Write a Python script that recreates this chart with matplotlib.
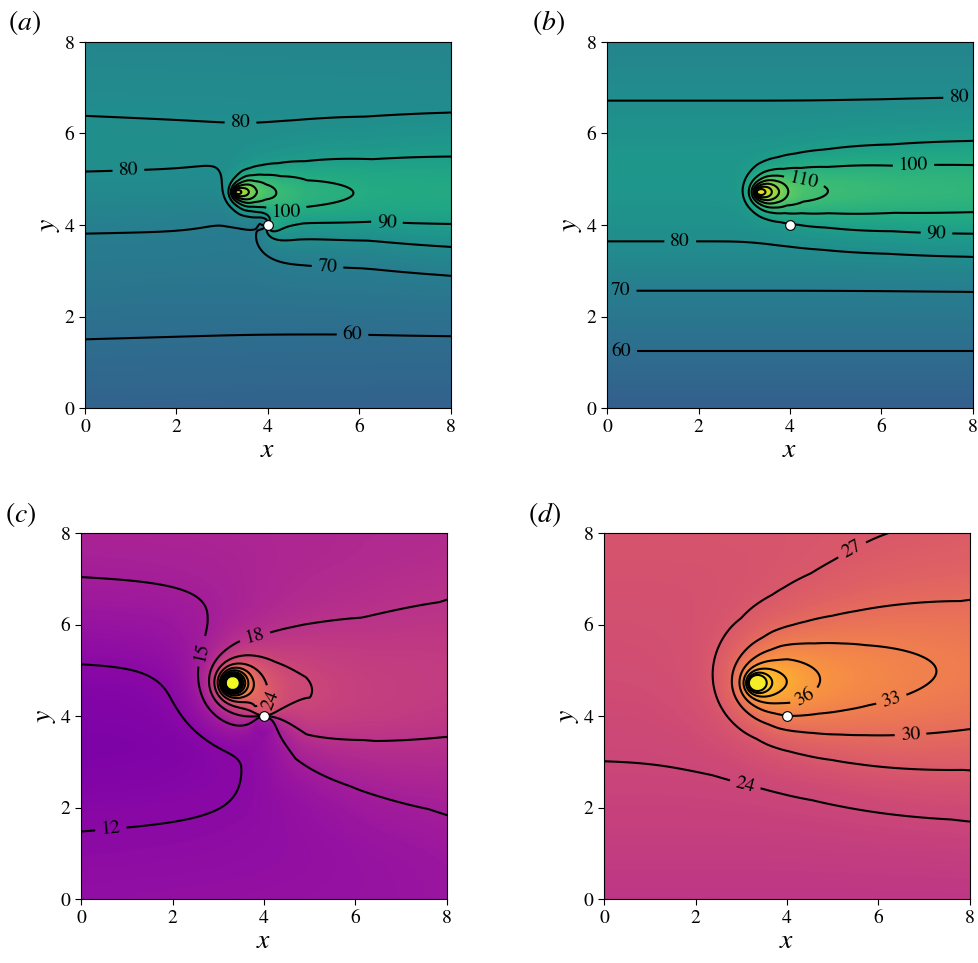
import numpy as np
import matplotlib.pyplot as plt
from matplotlib.colors import Normalize

plt.rcParams['font.family'] = 'STIXGeneral'
plt.rcParams['mathtext.fontset'] = 'stix'

# source (yellow) and sensor (white) positions
source_xy = [3.30, 4.72]
sensor_xy = [4.0, 4.0]

# background level along the left edge, per panel
back_y_a = [0, 1.5, 3.85, 5.15, 5.8, 6.4, 8]
back_v_a = [53.5, 60, 70, 80.3, 81.5, 80, 75]
back_y_b = [0, 1.25, 2.58, 3.6, 4.6, 5.4, 6.72, 8]
back_v_b = [51, 60, 70, 80, 85, 86, 80, 74]
back_y_c = [0, 1.5, 3.3, 4.6, 5.15, 7.0, 8]
back_v_c = [12.8, 12, 10.4, 11.2, 12, 15, 15.8]
back_y_d = [0, 1.5, 3.0, 5.0, 8]
back_v_d = [21.3, 22.8, 24, 25, 26.3]
slope_x = [-0.12, 0.0, 0.05, 0.0]

# plume rise along the axis (A) and its lateral decay (eta0), at distances s
s_ab = [0, 0.15, 0.33, 0.44, 0.66, 1.0, 1.56, 3.0, 4.7, 6.5]
rise_a = [75, 62, 52, 45, 37, 30, 24.5, 21.3, 20.8, 20.5]
rise_b = [80, 66, 53, 46, 35, 28.5, 24.7, 21.5, 20, 19.5]
s_eta_ab = [0, 0.3, 0.6, 1.0, 1.7, 3.0, 4.7, 6.5]
eta_a = [0.2, 0.23, 0.22, 0.2, 0.18, 0.15, 0.136, 0.13]
eta_b = [0.24, 0.24, 0.22, 0.2, 0.17, 0.135, 0.11, 0.1]
s_c = [0, 0.5, 1.0, 1.8, 3.0, 4.7, 6.5]
rise_c = [6.5, 6.2, 5.8, 5.8, 5.5, 5.5, 5.3]
eta_c = [1.0, 0.95, 0.85, 0.75, 0.62, 0.5, 0.48]
s_d = [0, 0.4, 0.8, 1.45, 2.5, 4.7, 6.5]
rise_d = [9.5, 10, 10.2, 9.1, 8.2, 6.9, 6.5]
s_eta_d = [0, 0.3, 0.6, 0.8, 1.2, 2.0, 4.7, 6.5]
eta_d = [1.15, 1.0, 0.85, 0.8, 0.72, 0.63, 0.51, 0.48]
axis_deg = [-2.7, 0.0, 0.0, 2.2]

# weak wake behind the sensor in (a) and (c)
s_w = [0, 1.0, 2.5, 4.5]
rise_wa = [5, 4, 3, 2.2]
eta_wa = [0.6, 0.45, 0.35, 0.3]
rise_wc = [1, 3, 3, 2.5]
eta_wc = [0.8, 0.7, 0.6, 0.55]
wake_deg = [-8, -10]

# isotropic core at the source: amplitude, power, advection, radius
core_c = [3.0, 1.3, 0.6, 0.02]
core_d = [2.85, 1.0, 1.5, 0.02]
# dipole at the sensor: strength, angle (deg), reach, largest swing
dip_a = [2.5, -15, 1.0, 12]
dip_c = [1.5, 90, 1.0, 3.5]

caps = [152, 152, 46.5, 46.5]
levels_ab = np.arange(60, 151, 10)
levels_cd = np.arange(12, 46, 3)
norms = [Normalize(5, 158), Normalize(5, 158), Normalize(0, 42), Normalize(0, 48)]

# label spots for the contour numbers
lab_pos_a = [(5.85, 1.72), (5.3, 3.05), (3.4, 6.35), (0.95, 5.15), (6.6, 4.05), (4.4, 4.3)]
lab_pos_b = [(0.3, 1.28), (0.3, 2.6), (1.6, 3.6), (7.7, 6.65), (7.2, 3.77), (6.7, 5.27), (4.3, 4.9)]
lab_pos_c = [(0.65, 1.55), (2.7, 5.4), (3.8, 5.75), (4.2, 4.35)]
lab_pos_d = [(3.1, 2.55), (5.6, 7.3), (6.7, 3.6), (6.3, 4.3), (4.45, 4.3)]

xg = np.linspace(0, 8, 401)
X, Y = np.meshgrid(xg, xg)


def smooth(prof, w):
    n = 3 * w
    pad = np.pad(prof, n, mode='edge')
    ker = np.exp(-0.5 * (np.arange(-n, n + 1) / w) ** 2)
    return np.convolve(pad, ker / ker.sum(), mode='same')[n:-n]


def background(yk, vk, sx):
    prof = smooth(np.interp(xg, yk, vk), 8)
    return prof[:, None] + sx * X


def plume(sk, rise, sek, eta0, deg, origin=source_xy):
    t = np.deg2rad(deg)
    dx = X - origin[0]
    dy = Y - origin[1]
    u = dx * np.cos(t) + dy * np.sin(t)
    v = -dx * np.sin(t) + dy * np.cos(t)
    r = np.hypot(u, v)
    s = (r + u) / 2
    eta = r - u
    return np.interp(s, sk, rise) * np.exp(-eta / np.interp(s, sek, eta0))


def core(p):
    amp, pw, k, r0 = p
    dx = X - source_xy[0]
    dy = Y - source_xy[1]
    r = np.hypot(dx, dy)
    return amp * np.exp(-k * (r - dx)) / (r + r0) ** pw


def dipole(p):
    q, ang, reach, lim = p
    dx = X - sensor_xy[0]
    dy = Y - sensor_xy[1]
    t = np.deg2rad(ang)
    r2 = dx ** 2 + dy ** 2
    d = q * (dx * np.cos(t) + dy * np.sin(t)) / (r2 + 0.004) * np.exp(-r2 / (2 * reach ** 2))
    return np.clip(d, -lim, lim)


fields = [
    background(back_y_a, back_v_a, slope_x[0]) + plume(s_ab, rise_a, s_eta_ab, eta_a, axis_deg[0])
    + plume(s_w, rise_wa, s_w, eta_wa, wake_deg[0], sensor_xy) + dipole(dip_a),
    background(back_y_b, back_v_b, slope_x[1]) + plume(s_ab, rise_b, s_eta_ab, eta_b, axis_deg[1]),
    background(back_y_c, back_v_c, slope_x[2]) + plume(s_c, rise_c, s_c, eta_c, axis_deg[2])
    + plume(s_w, rise_wc, s_w, eta_wc, wake_deg[1], sensor_xy) + core(core_c) + dipole(dip_c),
    background(back_y_d, back_v_d, slope_x[3]) + plume(s_d, rise_d, s_eta_d, eta_d, axis_deg[3])
    + core(core_d),
]
labels = [lab_pos_a, lab_pos_b, lab_pos_c, lab_pos_d]
names = ['(a)', '(b)', '(c)', '(d)']

fig = plt.figure(figsize=(9.79, 9.63), dpi=100)
W, H = 979.0, 963.0
boxes = [(85, 42), (607, 42), (81, 533), (604, 533)]
name_xy = [(8, 8), (532, 8), (5, 500), (528, 500)]

for i, F in enumerate(fields):
    F = np.minimum(F, caps[i])
    left, top = boxes[i]
    ax = fig.add_axes([left / W, 1 - (top + 366) / H, 366 / W, 366 / H])
    cmap = 'viridis' if i < 2 else 'plasma'
    lev = levels_ab if i < 2 else levels_cd
    ax.imshow(F, extent=[0, 8, 0, 8], origin='lower', cmap=cmap, norm=norms[i],
              interpolation='bilinear', aspect='auto')
    cs = ax.contour(X, Y, F, levels=lev, colors='k', linewidths=1.5)
    ax.clabel(cs, manual=labels[i], fmt='%d', fontsize=14, inline_spacing=6)
    ax.plot(sensor_xy[0], sensor_xy[1], 'o', ms=7, mfc='white', mec='k', mew=0.8)
    ax.set_xlim(0, 8)
    ax.set_ylim(0, 8)
    ax.set_xticks([0, 2, 4, 6, 8])
    ax.set_yticks([0, 2, 4, 6, 8])
    ax.tick_params(labelsize=14, length=4)
    ax.set_xlabel('$x$', fontsize=20, labelpad=2)
    ax.set_ylabel('$y$', fontsize=20, labelpad=2)
    fig.text(name_xy[i][0] / W, 1 - name_xy[i][1] / H, '$' + names[i] + '$',
             fontsize=20, ha='left', va='top')

fig.savefig('out.png', dpi=100)
